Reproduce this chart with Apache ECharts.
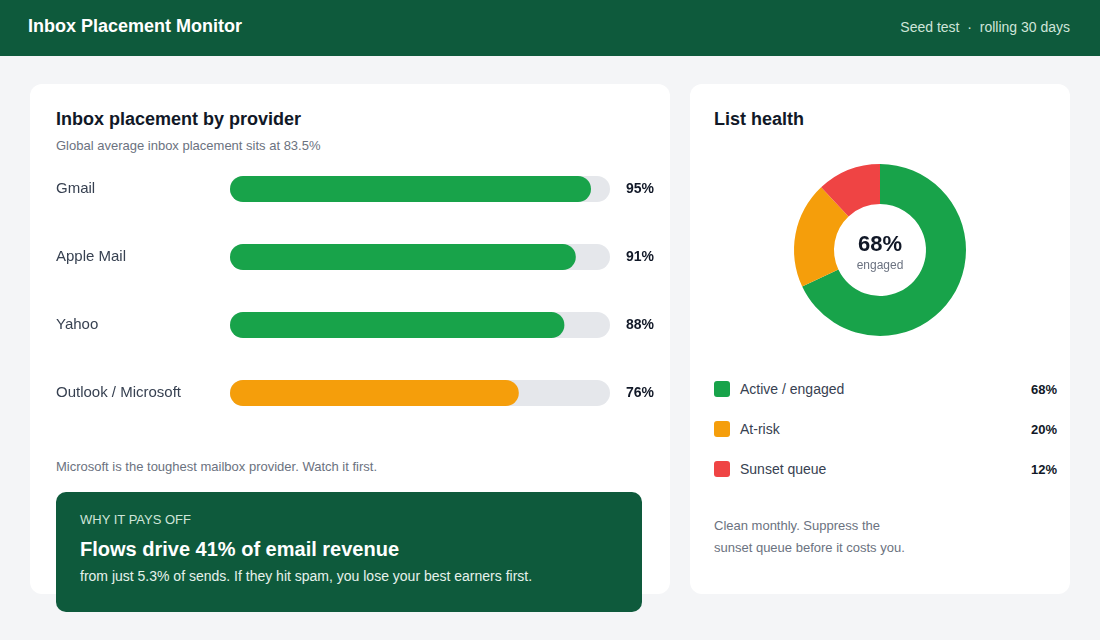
<!DOCTYPE html>
<html>
<head>
<meta charset="utf-8">
<script src="https://cdn.jsdelivr.net/npm/echarts@6/dist/echarts.min.js"></script>
<style>
  body { margin: 0; width: 1100px; height: 640px; background: #f4f5f7; font-family: "Liberation Sans", Arial, sans-serif; position: relative; overflow: hidden; }
  .header { position: absolute; left: 0; top: 0; width: 1100px; height: 56px; background: #0e5a3c; }
  .header .title { position: absolute; left: 28px; top: 16px; font-size: 18px; font-weight: bold; color: #fff; }
  .header .meta { position: absolute; right: 30px; top: 19px; font-size: 14px; color: #cfe5d9; }
  .card { position: absolute; background: #fff; border-radius: 12px; }
  .sub { position: absolute; font-size: 13px; color: #6b7280; }
  .callout { position: absolute; left: 56px; top: 492px; width: 586px; height: 120px; background: #0e5a3c; border-radius: 10px; }
  .callout .k { position: absolute; left: 24px; top: 20px; font-size: 13px; color: #cfe5d9; }
  .callout .h { position: absolute; left: 24px; top: 46px; font-size: 20px; font-weight: bold; color: #fff; }
  .callout .t { position: absolute; left: 24px; top: 76px; font-size: 14px; color: #e6f2ec; }
  .legend-row { position: absolute; left: 714px; width: 343px; height: 20px; font-size: 14px; color: #374151; }
  .legend-row .sw { position: absolute; left: 0; top: 2px; width: 16px; height: 16px; border-radius: 3px; }
  .legend-row .lb { position: absolute; left: 26px; top: 2px; }
  .legend-row .vl { position: absolute; right: 0; top: 3px; font-size: 13px; font-weight: bold; color: #111827; }
</style>
</head>
<body>
<div class="header">
  <div class="title">Inbox Placement Monitor</div>
  <div class="meta">Seed test &nbsp;·&nbsp; rolling 30 days</div>
</div>

<div class="card" style="left:30px;top:84px;width:640px;height:510px;"></div>
<div class="card" style="left:690px;top:84px;width:380px;height:510px;"></div>

<h2 style="position:absolute;left:56px;top:109px;margin:0;font-size:18px;color:#111827;">Inbox placement by provider</h2>
<div class="sub" style="left:56px;top:138px;">Global average inbox placement sits at 83.5%</div>
<div id="bars" style="position:absolute;left:30px;top:150px;width:640px;height:282px;"></div>
<div class="sub" style="left:56px;top:459px;">Microsoft is the toughest mailbox provider. Watch it first.</div>

<div class="callout">
  <div class="k">WHY IT PAYS OFF</div>
  <div class="h">Flows drive 41% of email revenue</div>
  <div class="t">from just 5.3% of sends. If they hit spam, you lose your best earners first.</div>
</div>

<h2 style="position:absolute;left:714px;top:109px;margin:0;font-size:18px;color:#111827;">List health</h2>
<div id="donut" style="position:absolute;left:690px;top:140px;width:380px;height:220px;"></div>
<div id="legend"></div>
<div class="sub" style="left:714px;top:515px;font-size:13px;line-height:22px;">Clean monthly. Suppress the<br>sunset queue before it costs you.</div>

<script>
var providers = ['Gmail', 'Apple Mail', 'Yahoo', 'Outlook / Microsoft'];
var placement = [95, 91, 88, 76];

var healthLabels = ['Active / engaged', 'At-risk', 'Sunset queue'];
var healthValues = [68, 20, 12];
var healthColors = ['#18a34a', '#f59e0b', '#ef4444'];

var green = '#18a34a';
var amber = '#f59e0b';

var bars = echarts.init(document.getElementById('bars'));
bars.setOption({
    animation: false,
    grid: { left: 200, right: 60, top: 5, bottom: 5 },
    xAxis: { type: 'value', min: 0, max: 100, show: false },
    yAxis: [{
        type: 'category',
        inverse: true,
        data: providers,
        axisLine: { show: false },
        axisTick: { show: false },
        axisLabel: { align: 'left', margin: 174, fontSize: 15, color: '#374151', fontFamily: 'Liberation Sans', padding: [2, 0, 0, 0] }
    }, {
        type: 'category',
        inverse: true,
        position: 'right',
        data: placement.map(function (v) { return v + '%'; }),
        axisLine: { show: false },
        axisTick: { show: false },
        axisLabel: { align: 'right', margin: 44, fontSize: 14, fontWeight: 'bold', color: '#111827', fontFamily: 'Liberation Sans', padding: [2, 0, 0, 0] }
    }],
    series: [{
        type: 'bar',
        barWidth: 26,
        showBackground: true,
        backgroundStyle: { color: '#e5e7eb', borderRadius: 13 },
        itemStyle: { borderRadius: 13 },
        data: placement.map(function (v) {
            return { value: v, itemStyle: { color: v < 80 ? amber : green } };
        })
    }]
});

var donut = echarts.init(document.getElementById('donut'));
donut.setOption({
    animation: false,
    title: {
        text: healthValues[0] + '%',
        subtext: 'engaged',
        left: 'center',
        top: 89,
        itemGap: 4,
        textStyle: { fontSize: 22, fontWeight: 'bold', color: '#111827', fontFamily: 'Liberation Sans' },
        subtextStyle: { fontSize: 12, color: '#6b7280', fontFamily: 'Liberation Sans' }
    },
    series: [{
        type: 'pie',
        center: [190, 110],
        radius: [46, 86],
        startAngle: 90,
        label: { show: false },
        labelLine: { show: false },
        silent: true,
        data: healthValues.map(function (v, i) {
            return { name: healthLabels[i], value: v, itemStyle: { color: healthColors[i] } };
        })
    }]
});

var legend = document.getElementById('legend');
healthLabels.forEach(function (name, i) {
    var row = document.createElement('div');
    row.className = 'legend-row';
    row.style.top = (379 + i * 40) + 'px';
    row.innerHTML = '<span class="sw" style="background:' + healthColors[i] + '"></span>' +
        '<span class="lb">' + name + '</span><span class="vl">' + healthValues[i] + '%</span>';
    legend.appendChild(row);
});
</script>
</body>
</html>
